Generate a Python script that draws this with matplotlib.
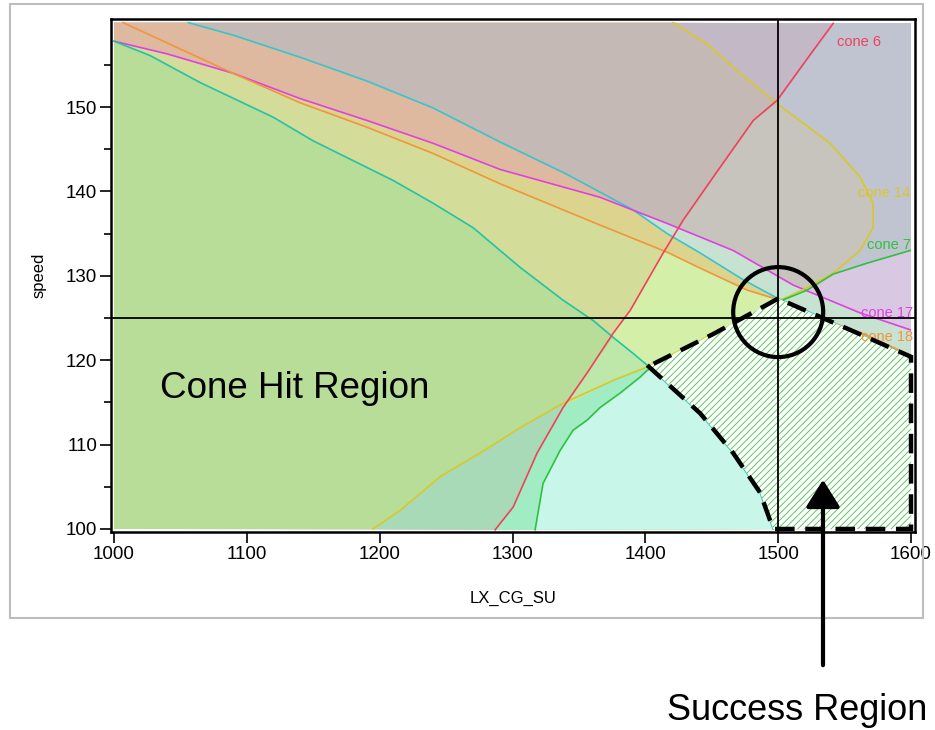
import numpy as np
import matplotlib
matplotlib.use("Agg")
import matplotlib.pyplot as plt
from matplotlib.patches import Polygon, Rectangle, Ellipse, FancyArrowPatch

plt.rcParams['font.family'] = ['Liberation Sans', 'DejaVu Sans']
plt.rcParams['hatch.linewidth'] = 0.6

# cone boundary curves (x = LX_CG_SU, y = speed)
cyan_x = np.array([1056, 1090, 1140, 1190, 1240, 1290, 1340, 1390.8, 1416.4, 1441.3, 1474, 1500, 1554, 1600])
cyan_y = np.array([160, 158.5, 155.9, 153.1, 149.9, 145.9, 142.1, 137.8, 135.0, 132.7, 129.5, 127.3, 123.6, 120.4])

mag_x = np.array([1000, 1039.9, 1089.6, 1140.1, 1190.5, 1240.2, 1290.7, 1366, 1416.4, 1466.1, 1511.3, 1561.7, 1599.4])
mag_y = np.array([157.8, 156.3, 154.0, 151.0, 148.4, 145.7, 142.6, 139.3, 136.2, 133.0, 128.9, 125.6, 123.6])

org_x = np.array([1006.8, 1039.9, 1089.6, 1140.1, 1190.5, 1240.2, 1290.7, 1366, 1416.4, 1441.3, 1476.7, 1501.5, 1526.4, 1561.7, 1599.4])
org_y = np.array([160.0, 157.6, 154.0, 150.5, 147.6, 144.5, 140.9, 136.0, 132.8, 130.9, 128.3, 127.1, 125.1, 123.3, 120.6])

hit_x = np.array([1000, 1027.1, 1064.8, 1119.7, 1149.8, 1210.1, 1240.2, 1270.3, 1305.7, 1338.1, 1360.7, 1375.8, 1390.8, 1401.4, 1441.3, 1466.1, 1486.4, 1496.2])
hit_y = np.array([157.8, 156.1, 152.9, 148.8, 146.0, 141.3, 138.6, 135.7, 131.0, 127.1, 124.7, 122.7, 120.8, 119.4, 113.7, 109.0, 104.3, 100.0])

c14_x = np.array([1195, 1215.4, 1245.5, 1275.6, 1305.7, 1338.1, 1375.8, 1401.4, 1451.1, 1501.5, 1521.8, 1541.4, 1561.7, 1571.5, 1571.5, 1561.7, 1539.2, 1499.2, 1471.4, 1446.5, 1420.9])
c14_y = np.array([100.0, 102.2, 106.2, 109.0, 112.0, 114.9, 117.6, 119.2, 123.1, 127.1, 128.6, 130.3, 133.0, 135.7, 138.6, 141.7, 145.7, 150.4, 154.0, 157.5, 160.0])

c6_x = np.array([1286.9, 1300.5, 1318.5, 1338.1, 1356.2, 1375.8, 1388.6, 1413.4, 1428.5, 1451.1, 1481.2, 1499.2, 1526.4, 1541.4])
c6_y = np.array([99.9, 102.6, 109.0, 114.4, 118.5, 123.2, 125.9, 132.7, 136.6, 141.7, 148.4, 150.8, 156.7, 159.9])

c7_x = np.array([1317, 1323, 1335.8, 1345.6, 1356.2, 1366, 1381, 1396.1, 1401.4, 1456.3, 1501.5, 1521.8, 1541.4, 1567, 1599.4])
c7_y = np.array([99.9, 105.4, 109.3, 111.7, 112.9, 114.4, 116.1, 118.0, 118.8, 123.1, 127.0, 128.3, 130.2, 131.5, 133.0])

target_x, target_y = 1500, 125


def seg(x, y, s):
    return np.column_stack([x[s], y[s]])


def poly(*parts):
    return np.vstack([np.atleast_2d(p) for p in parts])


cyan = lambda s: seg(cyan_x, cyan_y, s)
mag = lambda s: seg(mag_x, mag_y, s)
org = lambda s: seg(org_x, org_y, s)
hit = lambda s: seg(hit_x, hit_y, s)
c14 = lambda s: seg(c14_x, c14_y, s)
c6 = lambda s: seg(c6_x, c6_y, s)
c7 = lambda s: seg(c7_x, c7_y, s)
ALL = slice(None)

fig = plt.figure(figsize=(9.35, 7.30), dpi=100)
fig.add_artist(Rectangle((10 / 935, 1 - 618 / 730), 913 / 935, 614 / 730,
                         transform=fig.transFigure, fill=False, ec='#bdbdbd', lw=1.5))
ax = fig.add_axes([111 / 935, 1 - 532 / 730, 804 / 935, 513 / 730])

# painted regions, back to front
regions = [
    (poly([(1000, 100), (1600, 100), (1600, 160), (1000, 160)]), '#c0c4d0'),
    (poly(c7(ALL), [(1600, 133), (1600, 100)]), '#d8c8e2'),
    (poly([(1000, 100)], c14(ALL), [(1000, 160)]), '#c6c4bc'),
    (poly(c14(slice(20, 16, -1)), c6(slice(12, None))), '#c3b8c6'),
    (poly([(1000, 160)], c14(slice(20, 16, -1)), c6(slice(10, None, -1)), [(1000, 100)]), '#c4b9b4'),
    (poly(mag(slice(0, 8)), cyan(slice(7, None, -1)), [(1000, 160)]), '#dfb8a0'),
    (poly(cyan(slice(7, None)), mag(slice(None, 7, -1))), '#c8e2d2'),
    (poly(mag(slice(2, 8)), cyan(slice(7, 12)), org(slice(11, 1, -1))), '#dcd48e'),
    (poly(mag(slice(0, 2)), org(slice(2, None)), [(1600, 120.6), (1600, 100), (1000, 100)]), '#d3dc98'),
    (poly(c6(slice(0, 8)), org(slice(8, None)), [(1600, 120.6), (1600, 100)]), '#d4f0a8'),
    (poly(hit(ALL), [(1000, 100)]), '#b8dd98'),
    (poly(c6(slice(0, 5)), hit(slice(11, None))), '#bde8aa'),
    (poly(c14(slice(0, 6)), c6(slice(3, None, -1))), '#a8dab8'),
    (poly(c6(slice(0, 4)), c14(slice(6, 8)), hit(slice(13, None))), '#a2ecc4'),
    (poly(c7(slice(0, 9)), hit(slice(13, None))), '#c8f6e8'),
]
for pts, col in regions:
    ax.add_patch(Polygon(pts, closed=True, fc=col, ec='none', lw=0, zorder=1))

# cone lines
lines = [
    (cyan_x, cyan_y, '#38c4cc'),
    (mag_x, mag_y, '#e040e0'),
    (org_x, org_y, '#f0963c'),
    (hit_x, hit_y, '#22c4a4'),
    (c14_x, c14_y, '#d8c828'),
    (c6_x, c6_y, '#f0405a'),
    (c7_x, c7_y, '#30c040'),
]
for x, y, col in lines:
    ax.plot(x, y, color=col, lw=1.2, zorder=2)

# success region
success = poly(hit(slice(13, None)), [(1600, 100)], cyan(slice(13, 10, -1)), c14(slice(8, 6, -1)))
ax.add_patch(Polygon(success, closed=True, fc='white', ec='#44c444', lw=0, hatch='/////', zorder=3))

ax.axvline(target_x, color='k', lw=1.3, zorder=4)
ax.axhline(target_y, color='k', lw=1.3, zorder=4)

ax.add_patch(Polygon(success, closed=True, fill=False, ec='k', lw=3.2,
                     linestyle=(0, (4.4, 2.4)), joinstyle='miter', zorder=5, clip_on=False))
ax.add_patch(Ellipse((1500, 125.7), 90 / 1.3283, 90 / 8.44, fill=False, ec='k', lw=3, zorder=6))

label_font = dict(fontsize=10.5, va='center', ha='left', zorder=4, clip_on=True)
ax.text(1544, 157.7, 'cone 6', color='#f0405a', **label_font)
ax.text(1560, 139.8, 'cone 14', color='#d8c828', **label_font)
ax.text(1567, 133.6, 'cone 7', color='#30c040', **label_font)
ax.text(1562, 125.6, 'cone 17', color='#e040e0', **label_font)
ax.text(1562, 122.7, 'cone 18', color='#f0963c', **label_font)

ax.text(1034.6, 116.7, 'Cone Hit Region', fontsize=26.5, va='center', ha='left', zorder=7)

ax.set_xlim(997.7, 1603)
ax.set_ylim(99.64, 160.43)
ax.set_xticks(np.arange(1000, 1601, 100))
ax.set_yticks(np.arange(100, 151, 10))
ax.set_yticks(np.arange(105, 156, 10), minor=True)
ax.tick_params(direction='out', length=8, width=1.2, labelsize=13.5, pad=2)
ax.tick_params(which='minor', length=5, width=1.2)
for sp in ax.spines.values():
    sp.set_linewidth(1.8)
ax.set_xlabel('LX_CG_SU', fontsize=12)
ax.set_ylabel('speed', fontsize=12)
ax.xaxis.set_label_coords(0.5, -0.115)
ax.yaxis.set_label_coords(-0.08, 0.5)

fig.add_artist(FancyArrowPatch((823 / 935, 1 - 668 / 730), (823 / 935, 1 - 477 / 730),
                               transform=fig.transFigure, arrowstyle='-|>,head_length=0.4,head_width=0.25',
                               mutation_scale=42, lw=3, color='k'))
fig.text(667 / 935, 1 - 710 / 730, 'Success Region', fontsize=26, va='center', ha='left')

fig.savefig('out.png', dpi=100)
